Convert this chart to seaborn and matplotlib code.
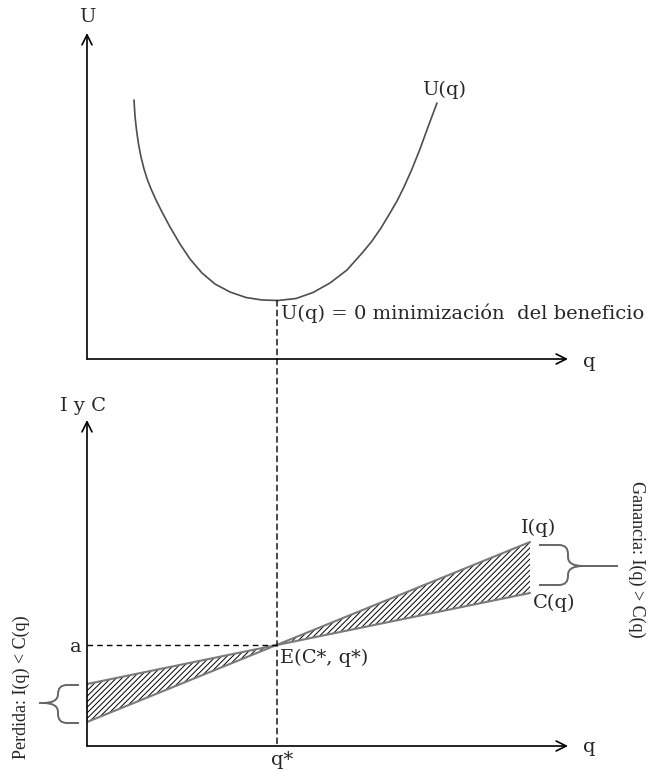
import numpy as np
import pandas as pd
import matplotlib
matplotlib.use("Agg")
import matplotlib.pyplot as plt
import seaborn as sns
from matplotlib.path import Path
from matplotlib.patches import PathPatch, ConnectionPatch

# ---------------- data ----------------
# Top panel: profit curve U(q)
u_q = [4.70, 4.80, 4.95, 5.15, 5.40, 5.70, 6.05, 6.45, 6.90, 7.50, 8.30,
       9.30, 10.30, 11.50, 12.80, 14.30, 15.90, 17.50, 19.10,
       20.90, 22.60, 24.30, 26.00, 27.60, 28.50, 29.40, 30.30, 31.00,
       31.70, 32.50, 33.30, 34.10, 35.00]
u_val = [25.90, 24.30, 22.90, 21.50, 20.20, 19.00, 17.90, 16.90, 15.90,
         14.70, 13.20, 11.50, 10.00, 8.60, 7.50, 6.70, 6.15, 5.90, 5.85,
         6.05, 6.65, 7.60, 8.90, 10.70, 11.80, 13.10, 14.60, 15.80, 17.20,
         19.00, 21.00, 23.20, 25.60]
q_star = 19.0
u_min = 5.85

# Bottom panel: income I(q) and cost C(q)
line_q = [0.0, 44.3]
income = [2.4, 20.4]
cost = [6.2, 15.3]

sns.set_theme(style="white")
plt.rcParams["font.family"] = ["DejaVu Serif"]
plt.rcParams["hatch.linewidth"] = 0.7
plt.rcParams["hatch.color"] = "black"

W, H = 648, 771
fig = plt.figure(figsize=(W / 100, H / 100), dpi=100)
fig.patch.set_facecolor("white")

def ax_rect(x0, y_axis_px, x1, y_top_px):
    return [x0 / W, 1 - y_axis_px / H, (x1 - x0) / W, (y_axis_px - y_top_px) / H]

ax1 = fig.add_axes(ax_rect(87, 359, 568, 33))
ax2 = fig.add_axes(ax_rect(87, 746, 568, 420))

for ax in (ax1, ax2):
    ax.set_xlim(0, 48.1)
    ax.set_ylim(0, 32.6)
    ax.set_xticks([])
    ax.set_yticks([])
    for s in ax.spines.values():
        s.set_visible(False)
    ax.set_facecolor("none")
    ax.annotate("", xy=(0, 1), xytext=(0, 0), xycoords="axes fraction",
                arrowprops=dict(arrowstyle="->", lw=1.2, color="black",
                                mutation_scale=18, shrinkA=0, shrinkB=0))
    ax.annotate("", xy=(1, 0), xytext=(0, 0), xycoords="axes fraction",
                arrowprops=dict(arrowstyle="->", lw=1.2, color="black",
                                mutation_scale=18, shrinkA=0, shrinkB=0))

fs = 14
rot_font = ["Liberation Serif", "DejaVu Serif"]

# ---------------- top panel ----------------
dfu = pd.DataFrame({"q": u_q, "U": u_val})
sns.lineplot(data=dfu, x="q", y="U", ax=ax1, color="#4d4d4d", lw=1.2,
             sort=False, estimator=None, solid_joinstyle="round")
ax1.set_xlabel("")
ax1.set_ylabel("")
ax1.text(0, 34.2, "U", ha="center", va="center", fontsize=fs)
ax1.text(50.2, -0.3, "q", ha="center", va="center", fontsize=fs)
ax1.text(35.7, 26.9, "U(q)", ha="center", va="center", fontsize=fs)
ax1.text(19.4, 4.6, "U(q) = 0 minimización  del beneficio", ha="left",
         va="center", fontsize=fs)

# ---------------- bottom panel ----------------
dfl = pd.DataFrame({"q": line_q * 2, "v": income + cost,
                    "serie": ["I"] * 2 + ["C"] * 2})
sns.lineplot(data=dfl, x="q", y="v", hue="serie", ax=ax2,
             palette={"I": "#7a7a7a", "C": "#7a7a7a"}, lw=1.5, legend=False)
ax2.set_xlabel("")
ax2.set_ylabel("")

si = (income[1] - income[0]) / (line_q[1] - line_q[0])
sc = (cost[1] - cost[0]) / (line_q[1] - line_q[0])
qx = (cost[0] - income[0]) / (si - sc)
ya = income[0] + si * qx
xs = np.array([line_q[0], qx, line_q[1]])
yi = np.interp(xs, line_q, income)
yc = np.interp(xs, line_q, cost)
ax2.fill_between(xs, yi, yc, facecolor="none", edgecolor="black",
                 hatch="//////", linewidth=0)

ax2.plot([0, qx], [ya, ya], ls=(0, (4, 3)), color="black", lw=1.0)
con = ConnectionPatch(xyA=(q_star, u_min), coordsA=ax1.transData,
                      xyB=(q_star, 0), coordsB=ax2.transData,
                      ls=(0, (4, 3)), color="black", lw=1.0)
fig.add_artist(con)

ax2.text(-0.4, 34.0, "I y C", ha="center", va="center", fontsize=fs)
ax2.text(50.2, -0.1, "q", ha="center", va="center", fontsize=fs)
ax2.text(-0.5, 9.9, "a", ha="right", va="center", fontsize=fs)
ax2.text(19.3, 8.8, "E(C*, q*)", ha="left", va="center", fontsize=fs)
ax2.text(19.5, -1.4, "q*", ha="center", va="center", fontsize=fs)
ax2.text(45.2, 21.8, "I(q)", ha="center", va="center", fontsize=fs)
ax2.text(46.7, 14.3, "C(q)", ha="center", va="center", fontsize=fs)
ax2.text(55.0, 18.7, "Ganancia: I(q) > C(q)", ha="center", va="center",
         rotation=-90, fontsize=13, family=rot_font)
ax2.text(-6.6, 5.9, "Perdida: I(q) < C(q)", ha="center", va="center",
         rotation=90, fontsize=13, family=rot_font)


def brace(ax, x_end, x_spine, x_tip, y_top, y_bot, y_mid):
    d = np.sign(x_tip - x_spine)
    r = 0.9
    verts = [
        (x_end, y_top),
        (x_spine - d * r, y_top),
        (x_spine, y_top), (x_spine, y_top - r),
        (x_spine, y_mid + r),
        (x_spine, y_mid), (x_spine + d * 1.5, y_mid),
        (x_tip, y_mid),
        (x_spine + d * 1.5, y_mid),
        (x_spine, y_mid), (x_spine, y_mid - r),
        (x_spine, y_bot + r),
        (x_spine, y_bot), (x_spine - d * r, y_bot),
        (x_end, y_bot),
    ]
    codes = [Path.MOVETO, Path.LINETO, Path.CURVE3, Path.CURVE3, Path.LINETO,
             Path.CURVE3, Path.CURVE3, Path.LINETO, Path.MOVETO,
             Path.CURVE3, Path.CURVE3, Path.LINETO, Path.CURVE3, Path.CURVE3,
             Path.LINETO]
    p = PathPatch(Path(verts, codes), facecolor="none", edgecolor="#666666",
                  lw=1.4, clip_on=False)
    ax.add_patch(p)


brace(ax2, 45.2, 48.1, 53.1, 20.1, 16.1, 18.0)
brace(ax2, -0.8, -2.9, -4.8, 6.1, 2.3, 4.3)

fig.savefig("out.png", dpi=100, facecolor="white")
